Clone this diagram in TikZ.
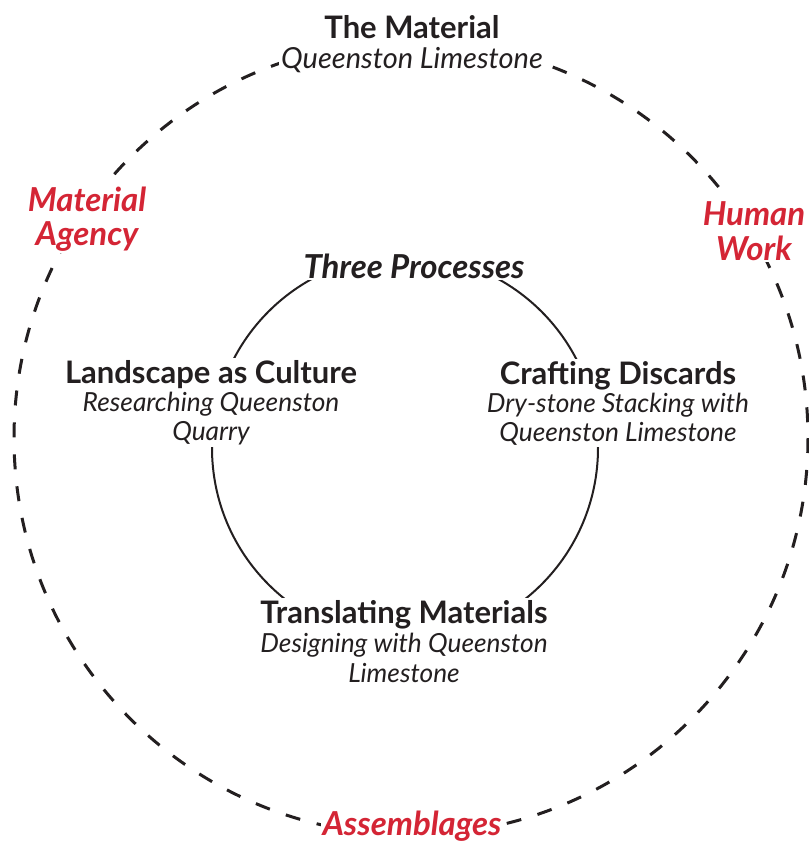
\documentclass[tikz,border=0pt]{standalone}
\usepackage{fontspec}
\setmainfont{Lato}
\usepackage{amsmath}

\definecolor{ink}{HTML}{231F20}
\definecolor{agencyred}{HTML}{D42535}

% type sizes for headings and sub-lines
\newcommand{\headline}[1]{{\fontsize{31}{28.5}\selectfont\bfseries #1}}
\newcommand{\subline}[1]{{\fontsize{26.3}{28.5}\selectfont\itshape #1}}

\tikzset{
  label/.style={fill=white,inner sep=2pt,align=center,anchor=base,text=ink,
    font=\fontsize{26.3}{28.5}\selectfont},
  force/.style={label,text=agencyred,font=\fontsize{33}{33.5}\selectfont\bfseries\itshape},
  outerring/.style={ink,line width=3pt,dash pattern=on 15pt off 17pt},
  innerring/.style={ink,line width=2pt}
}

\begin{document}
\begin{tikzpicture}[x=1pt,y=-1pt]

      \useasboundingbox (0,0) rectangle (809,844);

      % the two rings
      \draw[outerring] (411,438) circle (397);
      \draw[innerring] (405,448) circle (193);

      \begin{scope}[every node/.style={label}]
        \node[font=\fontsize{29}{30}\selectfont] (material) at (412,68)
          {\headline{The Material}\\{\itshape Queenston Limestone}};
        \node (processes)   at (414,278) {{\fontsize{33}{28}\selectfont\bfseries\itshape Three Processes}};
        \node (landscape)   at (211,440) {\headline{Landscape as Culture}\\\subline{Researching Queenston}\\\subline{Quarry}};
        \node (crafting)    at (618,441) {\headline{Crafting Discards}\\\subline{Dry-stone Stacking with}\\\subline{Queenston Limestone}};
        \node[font=\fontsize{26.3}{29.5}\selectfont] (translating) at (404,682)
          {\headline{Translating Materials}\\\subline{Designing with Queenston}\\\subline{Limestone}};
      \end{scope}

      \begin{scope}[every node/.style={force}]
        \node (agency)      at (87,245)  {Material\\Agency};
        \node[font=\fontsize{33}{35}\selectfont\bfseries\itshape] (work) at (754,260) {Human\\Work};
        \node (assemblages) at (412,835) {Assemblages};
      \end{scope}

    \end{tikzpicture}
\end{document}
